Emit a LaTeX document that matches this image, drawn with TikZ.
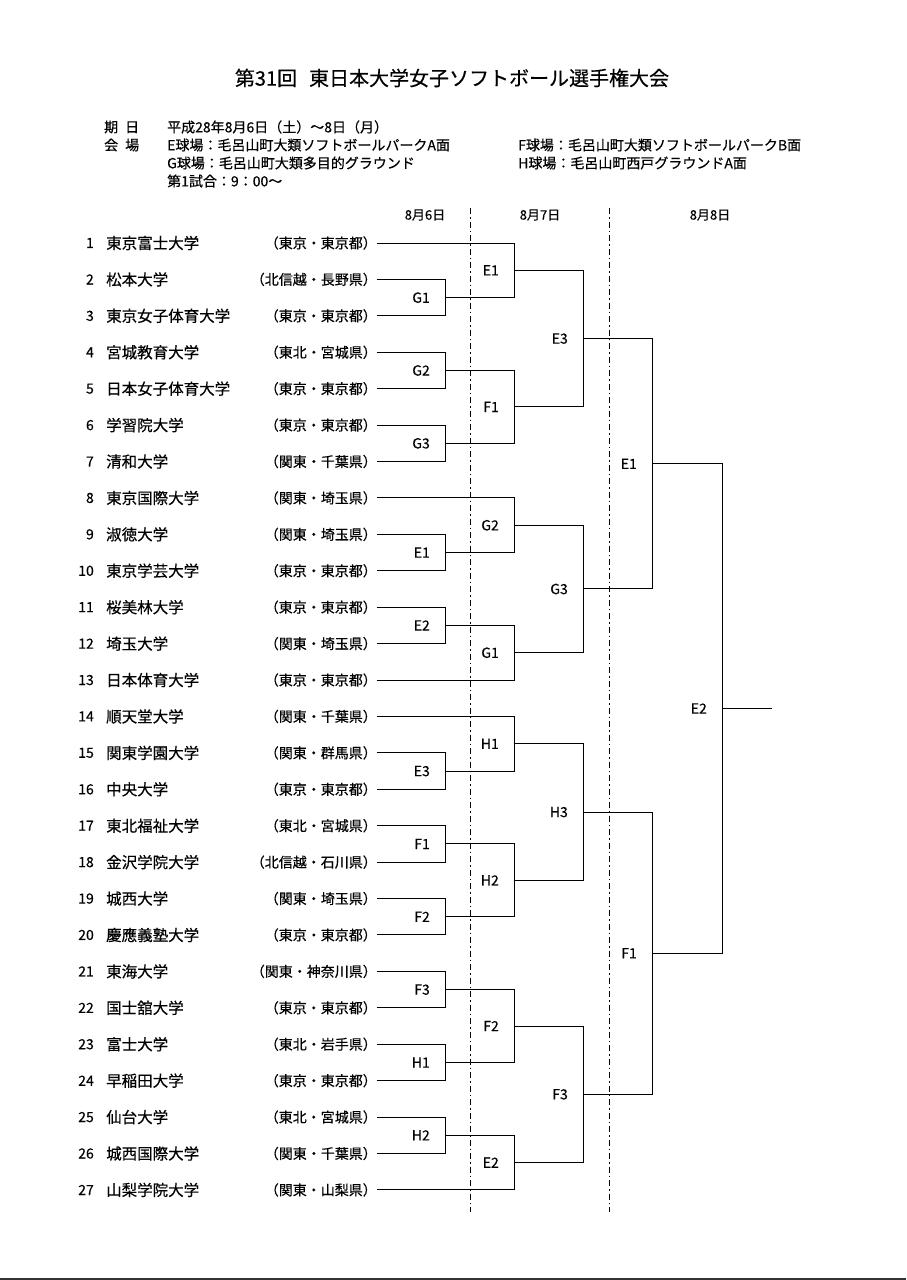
\documentclass[tikz,border=0pt]{standalone}
\usepackage{fontspec}
\setmainfont{Noto Sans CJK JP}[FakeBold=0.4]
\usetikzlibrary{calc}
\begin{document}
\begin{tikzpicture}[x=1pt,y=-1pt,
  txt/.style={inner sep=0pt,font=\fontsize{15.5}{15.5}\selectfont},
  pref/.style={inner sep=0pt,font=\fontsize{14}{14}\selectfont},
  hd/.style={inner sep=0pt,anchor=west,font=\fontsize{14}{14}\selectfont},
  lbl/.style={inner sep=0pt,anchor=east,font=\fontsize{14}{14}\selectfont},
  br/.style={line width=1pt},
  dd/.style={line width=0.9pt,dash pattern=on 6pt off 3pt on 1.5pt off 3pt}]
\useasboundingbox (0,0) rectangle (906,1280);
\fill[white] (0,0) rectangle (906,1280);
% header
\node[inner sep=0pt,font=\fontsize{20}{20}\selectfont] (title) at (452,78) {第31回\hspace{0.6em}東日本大学女子ソフトボール選手権大会};
\node[hd] (h1) at (104,127) {期\hspace{0.5em}日};
\node[hd] (h2) at (104,145) {会\hspace{0.5em}場};
\node[hd] (h3) at (167,127) {平成28年8月6日（土）〜8日（月）};
\node[hd] (h4) at (167,145) {E球場：毛呂山町大類ソフトボールパークA面};
\node[hd] (h5) at (518,145) {F球場：毛呂山町大類ソフトボールパークB面};
\node[hd] (h6) at (167,163) {G球場：毛呂山町大類多目的グラウンド};
\node[hd] (h7) at (518,163) {H球場：毛呂山町西戸グラウンドA面};
\node[hd] (h8) at (167,181) {第1試合：9：00〜};
\node[pref,font=\fontsize{13}{13}\selectfont] (d1) at (425,215) {8月6日};
\node[pref,font=\fontsize{13}{13}\selectfont] (d2) at (540,215) {8月7日};
\node[pref,font=\fontsize{13}{13}\selectfont] (d3) at (710,215) {8月8日};
\coordinate (va1) at (470,208); \coordinate (vb1) at (470,1212);
\coordinate (va2) at (609,208); \coordinate (vb2) at (609,1212);
\draw[dd] (va1) -- (vb1);
\draw[dd] (va2) -- (vb2);
\coordinate (bl1) at (0,1279); \coordinate (bl2) at (906,1279);
\draw[line width=1.2pt,black!80] (bl1) -- (bl2);
% teams
\foreach \i/\n/\p in {1/東京富士大学/東京・東京都,2/松本大学/北信越・長野県,3/東京女子体育大学/東京・東京都,4/宮城教育大学/東北・宮城県,5/日本女子体育大学/東京・東京都,6/学習院大学/東京・東京都,7/清和大学/関東・千葉県,8/東京国際大学/関東・埼玉県,9/淑徳大学/関東・埼玉県,10/東京学芸大学/東京・東京都,11/桜美林大学/東京・東京都,12/埼玉大学/関東・埼玉県,13/日本体育大学/東京・東京都,14/順天堂大学/関東・千葉県,15/関東学園大学/関東・群馬県,16/中央大学/東京・東京都,17/東北福祉大学/東北・宮城県,18/金沢学院大学/北信越・石川県,19/城西大学/関東・埼玉県,20/慶應義塾大学/東京・東京都,21/東海大学/関東・神奈川県,22/国士舘大学/東京・東京都,23/富士大学/東北・岩手県,24/早稲田大学/東京・東京都,25/仙台大学/東北・宮城県,26/城西国際大学/関東・千葉県,27/山梨学院大学/関東・山梨県}{
  \pgfmathsetmacro{\yy}{243+(\i-1)*36.42}
  \node[pref,anchor=east] (n\i) at (94,\yy) {\i};
  \node[txt,anchor=west] (t\i) at (106,\yy) {\n};
  \node[pref,anchor=east] (p\i) at (377,\yy) {（\p）};
}
\coordinate (x1) at (445,0); \coordinate (x2) at (514,0);
\coordinate (x3) at (583,0); \coordinate (x4) at (652,0);
\coordinate (x5) at (722,0);
\newcommand\mymatch[5]{% id, label, xcoord, top, bottom
  \draw[br] (#4) -- (#4 -| #3) -- (#5 -| #3) -- (#5);
  \coordinate (#1) at ($(#4 -| #3)!.5!(#5 -| #3)$);
  \node[lbl] (L#1) at ($(#1)+(-15,0)$) {#2};
}
% round 1
\mymatch{a1}{G1}{x1}{p2.east}{p3.east}
\mymatch{a2}{G2}{x1}{p4.east}{p5.east}
\mymatch{a3}{G3}{x1}{p6.east}{p7.east}
\mymatch{a4}{E1}{x1}{p9.east}{p10.east}
\mymatch{a5}{E2}{x1}{p11.east}{p12.east}
\mymatch{a6}{E3}{x1}{p15.east}{p16.east}
\mymatch{a7}{F1}{x1}{p17.east}{p18.east}
\mymatch{a8}{F2}{x1}{p19.east}{p20.east}
\mymatch{a9}{F3}{x1}{p21.east}{p22.east}
\mymatch{a10}{H1}{x1}{p23.east}{p24.east}
\mymatch{a11}{H2}{x1}{p25.east}{p26.east}
% round 2
\mymatch{b1}{E1}{x2}{p1.east}{a1}
\mymatch{b2}{F1}{x2}{a2}{a3}
\mymatch{b3}{G2}{x2}{p8.east}{a4}
\mymatch{b4}{G1}{x2}{a5}{p13.east}
\mymatch{b5}{H1}{x2}{p14.east}{a6}
\mymatch{b6}{H2}{x2}{a7}{a8}
\mymatch{b7}{F2}{x2}{a9}{a10}
\mymatch{b8}{E2}{x2}{a11}{p27.east}
% round 3
\mymatch{c1}{E3}{x3}{b1}{b2}
\mymatch{c2}{G3}{x3}{b3}{b4}
\mymatch{c3}{H3}{x3}{b5}{b6}
\mymatch{c4}{F3}{x3}{b7}{b8}
% round 4
\mymatch{d1m}{E1}{x4}{c1}{c2}
\mymatch{d2m}{F1}{x4}{c3}{c4}
% final
\mymatch{fin}{E2}{x5}{d1m}{d2m}
\coordinate (champ) at (772,0);
\draw[br] (fin) -- (fin -| champ);
\end{tikzpicture}
\end{document}
